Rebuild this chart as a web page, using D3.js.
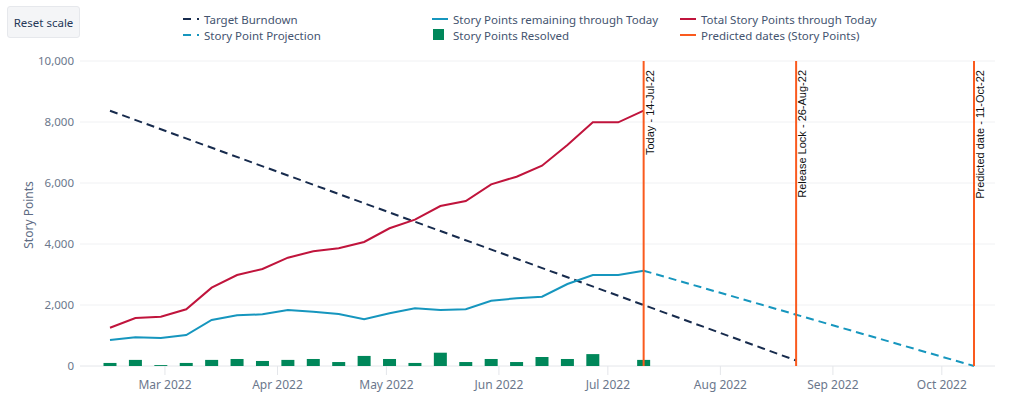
<!DOCTYPE html>
<html>
<head>
<meta charset="utf-8">
<script src="https://cdn.jsdelivr.net/npm/d3@7"></script>
<style>
  body { margin: 0; background: #fff; font-family: 'Noto Sans', sans-serif; }
  .reset { position: absolute; left: 7px; top: 6px; width: 73px; height: 32px; box-sizing: border-box;
           background: #f4f5f7; border: 1px solid #e6e8ec; border-radius: 3px; font-size: 11.5px;
           color: #253858; display: flex; align-items: center; justify-content: center; }
</style>
</head>
<body>
<div class="reset">Reset scale</div>
<script>
let width = 1017
let height = 399

// weekly buckets (Mondays)
let weeks = ['2022-02-14','2022-02-21','2022-02-28','2022-03-07','2022-03-14','2022-03-21','2022-03-28',
  '2022-04-04','2022-04-11','2022-04-18','2022-04-25','2022-05-02','2022-05-09','2022-05-16','2022-05-23',
  '2022-05-30','2022-06-06','2022-06-13','2022-06-20','2022-06-27','2022-07-04','2022-07-11']
let totalPoints = [1256,1574,1616,1859,2567,2984,3180,3551,3761,3859,4066,4515,4800,5246,5410,5957,6207,6567,7246,7990,7990,8370]
let remainingPoints = [852,941,918,1016,1508,1662,1695,1836,1780,1705,1531,1728,1892,1836,1859,2141,2220,2272,2689,2984,2984,3125]
let resolvedPoints = [100,200,30,100,200,230,165,200,230,130,330,230,100,436,130,230,130,295,230,390,0,200]

let targetDates = ['2022-02-14','2022-08-22']
let targetValues = [8370,180]
let projectionDates = ['2022-07-11','2022-10-10']
let projectionValues = [3125,0]

let markerDates = ['2022-07-11','2022-08-22','2022-10-10']
let markerLabels = ['Today - 14-Jul-22','Release Lock - 26-Aug-22','Predicted date - 11-Oct-22']

let yTicks = [0,2000,4000,6000,8000,10000]

let parse = d3.utcParse('%Y-%m-%d')

let x = d3.scaleUtc()
    .domain([parse('2022-02-14'), parse('2022-10-10')])
    .range([110, 974])
let y = d3.scaleLinear()
    .domain([0, 10000])
    .range([366, 61])

let svg = d3.select('body')
    .append('svg')
        .attr('width', width)
        .attr('height', height)
        .style('position', 'absolute')
        .style('left', 0)
        .style('top', 0)
        .style('font-family', "'Noto Sans', sans-serif")

svg.lower()
d3.select('.reset').raise()

// grid
svg.append('g')
    .selectAll('line')
    .data(yTicks)
    .enter()
    .append('line')
        .attr('x1', 80)
        .attr('x2', 995)
        .attr('y1', d => y(d))
        .attr('y2', d => y(d))
        .attr('stroke', d => d === 0 ? '#e4e6ea' : '#f0f1f3')
        .attr('stroke-width', 1)

// y axis labels
svg.append('g')
    .selectAll('text')
    .data(yTicks)
    .enter()
    .append('text')
        .attr('x', 74)
        .attr('y', d => y(d) + 4)
        .attr('text-anchor', 'end')
        .attr('font-size', 11.5)
        .attr('fill', '#6b778c')
        .text(d => d3.format(',')(d))

svg.append('text')
    .attr('transform', 'translate(33,215) rotate(-90)')
    .attr('text-anchor', 'middle')
    .attr('font-size', 12)
    .attr('fill', '#5e6c84')
    .text('Story Points')

// x axis
let xAxis = svg.append('g')
    .attr('transform', 'translate(0,366)')
    .call(d3.axisBottom(x).ticks(d3.utcMonth.every(1)).tickFormat(d3.utcFormat('%b %Y')).tickSize(9).tickSizeOuter(0))
xAxis.select('.domain').remove()
xAxis.selectAll('line').attr('stroke', '#e4e6ea')
xAxis.selectAll('text')
    .attr('font-size', 12)
    .attr('fill', '#6b778c')
    .attr('font-family', "'Noto Sans', sans-serif")
    .attr('dy', '0.95em')

// bars
svg.append('g')
    .selectAll('rect')
    .data(weeks)
    .enter()
    .append('rect')
        .attr('x', d => x(parse(d)) - 6.5)
        .attr('width', 13)
        .attr('y', (d, i) => y(resolvedPoints[i]))
        .attr('height', (d, i) => y(0) - y(resolvedPoints[i]))
        .attr('fill', '#00875a')

let line = d3.line()
    .x(d => x(d[0]))
    .y(d => y(d[1]))

function drawLine(dates, values, color, dash){
    svg.append('path')
        .datum(dates.map((d, i) => [parse(d), values[i]]))
        .attr('d', line)
        .attr('fill', 'none')
        .attr('stroke', color)
        .attr('stroke-width', 2)
        .attr('stroke-dasharray', dash)
}

drawLine(targetDates, targetValues, '#172b4d', '8,5')
drawLine(projectionDates, projectionValues, '#1696be', '8,5')
drawLine(weeks, totalPoints, '#c0143c', null)
drawLine(weeks, remainingPoints, '#1696be', null)

// markers
let markers = svg.append('g')
    .selectAll('g')
    .data(markerDates)
    .enter()
    .append('g')
        .attr('transform', d => 'translate(' + x(parse(d)) + ',0)')
markers.append('line')
    .attr('y1', 61)
    .attr('y2', 366)
    .attr('stroke', '#fa5a1e')
    .attr('stroke-width', 2)
markers.append('text')
    .attr('transform', 'translate(10,70) rotate(-90)')
    .attr('text-anchor', 'end')
    .attr('font-size', 11)
    .attr('fill', '#111')
    .attr('font-family', "'Liberation Sans', sans-serif")
    .text((d, i) => markerLabels[i])

// legend
let legendItems = [
    { name: 'Target Burndown', color: '#172b4d', type: 'dash', col: 0, row: 0 },
    { name: 'Story Point Projection', color: '#1696be', type: 'dash', col: 0, row: 1 },
    { name: 'Story Points remaining through Today', color: '#1696be', type: 'line', col: 1, row: 0 },
    { name: 'Story Points Resolved', color: '#00875a', type: 'rect', col: 1, row: 1 },
    { name: 'Total Story Points through Today', color: '#c0143c', type: 'line', col: 2, row: 0 },
    { name: 'Predicted dates (Story Points)', color: '#fa5a1e', type: 'line', col: 2, row: 1 }
]
let legendCols = [183, 432, 680]

let legend = svg.append('g')
    .selectAll('g')
    .data(legendItems)
    .enter()
    .append('g')
        .attr('transform', d => 'translate(' + legendCols[d.col] + ',' + (19 + d.row * 16) + ')')
legend.each(function(d){
    let g = d3.select(this)
    if(d.type === 'rect'){
        g.append('rect')
            .attr('x', 1).attr('y', -6).attr('width', 11).attr('height', 11)
            .attr('fill', d.color)
    } else {
        g.append('line')
            .attr('x1', 0).attr('x2', 16).attr('y1', 0).attr('y2', 0)
            .attr('stroke', d.color)
            .attr('stroke-width', 2)
            .attr('stroke-dasharray', d.type === 'dash' ? '8,6,2' : null)
    }
})
legend.append('text')
    .attr('x', 21)
    .attr('y', 4.5)
    .attr('font-size', 11.5)
    .attr('fill', '#44546f')
    .text(d => d.name)
</script>
</body>
</html>
